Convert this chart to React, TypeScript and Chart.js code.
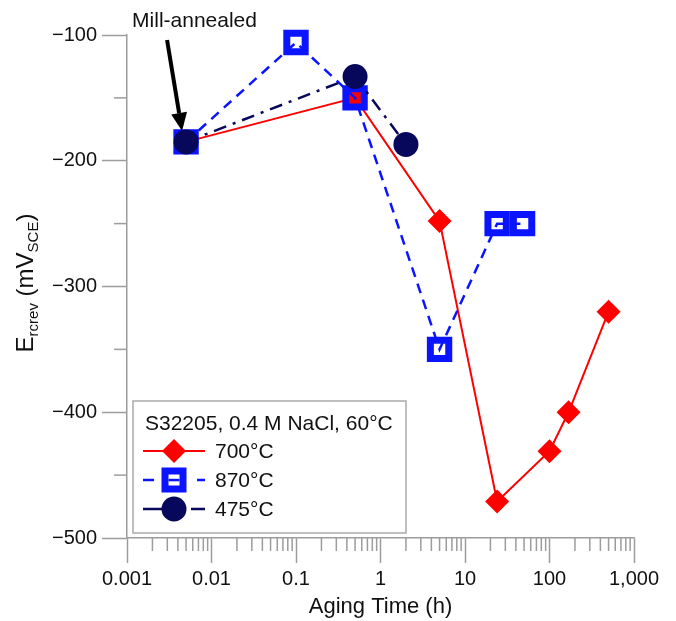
import React, { useEffect, useRef } from 'react';
import { Chart, registerables } from 'chart.js';

Chart.register(...registerables);

// ---- data ----
const hours700 = [0.005, 0.5, 5, 24, 100, 168, 500];
const erc700 = [-185, -150, -248, -471, -431, -400, -320];

const hours870 = [0.005, 0.1, 0.5, 5, 24, 48];
const erc870 = [-185, -106, -150, -350, -250, -250];

const hours475 = [0.005, 0.5, 2];
const erc475 = [-185, -133, -187];

const xTickValues = [0.001, 0.01, 0.1, 1, 10, 100, 1000];
const xTickLabels = ['0.001', '0.01', '0.1', '1', '10', '100', '1,000'];
const yTickValues = [-500, -400, -300, -200, -100];
const yMinorValues = [-450, -350, -250, -150];

const seriesNames = ['700°C', '870°C', '475°C'];
const legendTitle = 'S32205, 0.4 M NaCl, 60°C';
const annotationText = 'Mill-annealed';
const millAnnealedPoint = { x: 0.005, y: -185 };

const FONT = '"Liberation Sans", Arial, Helvetica, sans-serif';
const AXIS = '#9c9c9c';
const RED = '#ff0000';
const BLUE = '#0a14ff';
const NAVY = '#07075c';

const toXY = (xs: number[], ys: number[]) => xs.map((x, i) => ({ x, y: ys[i] }));

const drawDiamond = (ctx: CanvasRenderingContext2D, x: number, y: number, r: number) => {
  ctx.beginPath();
  ctx.moveTo(x, y - r);
  ctx.lineTo(x + r, y);
  ctx.lineTo(x, y + r);
  ctx.lineTo(x - r, y);
  ctx.closePath();
  ctx.fillStyle = RED;
  ctx.fill();
};

const drawOpenSquare = (ctx: CanvasRenderingContext2D, x: number, y: number) => {
  ctx.fillStyle = BLUE;
  ctx.fillRect(x - 12.5, y - 12.5, 25, 25);
  ctx.fillStyle = '#fff';
  ctx.fillRect(x - 5.5, y - 5.5, 11, 11);
  ctx.fillStyle = BLUE;
  ctx.fillRect(x - 5.5, y - 1.2, 11, 2.5);
};

const drawDot = (ctx: CanvasRenderingContext2D, x: number, y: number, r: number) => {
  ctx.beginPath();
  ctx.arc(x, y, r, 0, Math.PI * 2);
  ctx.fillStyle = NAVY;
  ctx.fill();
};

const decorPlugin = {
  id: 'decor',
  afterDraw(chart: any) {
    const ctx: CanvasRenderingContext2D = chart.ctx;
    const xs = chart.scales.x;
    const ys = chart.scales.y;
    const area = chart.chartArea;
    ctx.save();

    // minor ticks x
    ctx.strokeStyle = AXIS;
    ctx.lineWidth = 1.5;
    for (let d = -3; d < 3; d++) {
      for (let m = 2; m <= 9; m++) {
        const px = xs.getPixelForValue(m * Math.pow(10, d));
        ctx.beginPath();
        ctx.moveTo(px, area.bottom);
        ctx.lineTo(px, area.bottom + 13);
        ctx.stroke();
      }
    }
    // minor ticks y
    yMinorValues.forEach((v) => {
      const py = ys.getPixelForValue(v);
      ctx.beginPath();
      ctx.moveTo(area.left, py);
      ctx.lineTo(area.left - 13, py);
      ctx.stroke();
    });

    // y title with subscripts
    ctx.save();
    ctx.translate(33, 283);
    ctx.rotate(-Math.PI / 2);
    ctx.fillStyle = '#111';
    ctx.textBaseline = 'alphabetic';
    const big = `24px ${FONT}`;
    const small = `15px ${FONT}`;
    const parts: [string, string, number][] = [
      ['E', big, 0],
      ['rcrev', small, 5],
      [' (mV', big, 0],
      ['SCE', small, 5],
      [')', big, 0],
    ];
    let total = 0;
    parts.forEach(([t, f]) => {
      ctx.font = f;
      total += ctx.measureText(t).width;
    });
    let cx = -total / 2;
    parts.forEach(([t, f, dy]) => {
      ctx.font = f;
      ctx.textAlign = 'left';
      ctx.fillText(t, cx, dy);
      cx += ctx.measureText(t).width;
    });
    ctx.restore();

    // legend box
    const lx = area.left + 6;
    const lw = 273;
    const lh = 132;
    const ly = area.bottom - 5 - lh;
    ctx.fillStyle = '#fff';
    ctx.fillRect(lx, ly, lw, lh);
    ctx.strokeStyle = '#aaaaaa';
    ctx.lineWidth = 1.5;
    ctx.strokeRect(lx, ly, lw, lh);
    ctx.fillStyle = '#111';
    ctx.font = `21px ${FONT}`;
    ctx.textAlign = 'left';
    ctx.textBaseline = 'middle';
    ctx.fillText(legendTitle, lx + 12, ly + 23);
    const rows = [ly + 50, ly + 79, ly + 108];
    const sx0 = lx + 10;
    const sx1 = lx + 72;
    const mx = lx + 41;
    // red row
    ctx.strokeStyle = RED;
    ctx.lineWidth = 2;
    ctx.setLineDash([]);
    ctx.beginPath();
    ctx.moveTo(sx0, rows[0]);
    ctx.lineTo(sx1, rows[0]);
    ctx.stroke();
    drawDiamond(ctx, mx, rows[0], 12);
    // blue row
    ctx.strokeStyle = BLUE;
    ctx.lineWidth = 2.5;
    ctx.beginPath();
    ctx.moveTo(sx0, rows[1]);
    ctx.lineTo(sx0 + 11, rows[1]);
    ctx.moveTo(sx1 - 8, rows[1]);
    ctx.lineTo(sx1, rows[1]);
    ctx.stroke();
    drawOpenSquare(ctx, mx, rows[1]);
    // navy row
    ctx.strokeStyle = NAVY;
    ctx.beginPath();
    ctx.moveTo(sx0, rows[2]);
    ctx.lineTo(sx0 + 20, rows[2]);
    ctx.moveTo(sx1 - 14, rows[2]);
    ctx.lineTo(sx1, rows[2]);
    ctx.stroke();
    drawDot(ctx, mx, rows[2], 12.5);
    ctx.fillStyle = '#111';
    ctx.font = `21px ${FONT}`;
    rows.forEach((ry, i) => ctx.fillText(seriesNames[i], lx + 82, ry + 1));

    // annotation arrow
    const px = xs.getPixelForValue(millAnnealedPoint.x);
    const py = ys.getPixelForValue(millAnnealedPoint.y);
    const tipX = px - 4;
    const tipY = py - 11;
    const startX = px - 19;
    const startY = 40;
    const ang = Math.atan2(tipY - startY, tipX - startX);
    const headLen = 18;
    const headHalf = 8;
    const bx = tipX - headLen * Math.cos(ang);
    const by = tipY - headLen * Math.sin(ang);
    ctx.strokeStyle = '#000';
    ctx.lineWidth = 4;
    ctx.lineCap = 'butt';
    ctx.beginPath();
    ctx.moveTo(startX, startY);
    ctx.lineTo(bx, by);
    ctx.stroke();
    ctx.fillStyle = '#000';
    ctx.beginPath();
    ctx.moveTo(tipX, tipY);
    ctx.lineTo(bx + headHalf * Math.sin(ang), by - headHalf * Math.cos(ang));
    ctx.lineTo(bx - headHalf * Math.sin(ang), by + headHalf * Math.cos(ang));
    ctx.closePath();
    ctx.fill();
    ctx.fillStyle = '#111';
    ctx.font = `21px ${FONT}`;
    ctx.textAlign = 'left';
    ctx.textBaseline = 'alphabetic';
    ctx.fillText(annotationText, px - 54, 27);

    ctx.restore();
  },
};

export default function App() {
  const ref = useRef<HTMLCanvasElement>(null);
  useEffect(() => {
    const chart = new Chart(ref.current as HTMLCanvasElement, {
      type: 'line',
      data: {
        datasets: [
          {
            label: seriesNames[0],
            data: toXY(hours700, erc700),
            borderColor: RED,
            backgroundColor: RED,
            borderWidth: 2,
            pointStyle: 'rectRot',
            pointRadius: 12,
            pointBorderWidth: 0,
            pointBackgroundColor: RED,
            pointBorderColor: RED,
            order: 3,
            clip: false,
          },
          {
            label: seriesNames[1],
            data: toXY(hours870, erc870),
            borderColor: BLUE,
            backgroundColor: 'rgba(0,0,0,0)',
            borderWidth: 2.5,
            borderDash: [10, 7],
            pointStyle: 'rect',
            pointRadius: 13,
            pointBorderWidth: 7,
            pointBackgroundColor: 'rgba(0,0,0,0)',
            pointBorderColor: BLUE,
            order: 2,
            clip: false,
          },
          {
            label: seriesNames[2],
            data: toXY(hours475, erc475),
            borderColor: NAVY,
            backgroundColor: NAVY,
            borderWidth: 2.5,
            borderDash: [13, 7, 3, 7],
            pointStyle: 'circle',
            pointRadius: 12.5,
            pointBorderWidth: 0,
            pointBackgroundColor: NAVY,
            pointBorderColor: NAVY,
            order: 1,
            clip: false,
          },
        ] as any,
      },
      options: {
        animation: false,
        responsive: true,
        maintainAspectRatio: false,
        events: [],
        layout: { padding: { top: 35, right: 42, left: 0, bottom: 0 } },
        plugins: {
          legend: { display: false },
          tooltip: { enabled: false },
        },
        scales: {
          x: {
            type: 'logarithmic',
            min: 0.001,
            max: 1000,
            afterBuildTicks: (s: any) => {
              s.ticks = xTickValues.map((v) => ({ value: v, major: true }));
            },
            afterFit: (s: any) => {
              s.height = 83;
            },
            ticks: {
              autoSkip: false,
              maxRotation: 0,
              padding: 4,
              color: '#111',
              font: { family: FONT, size: 20 },
              callback: (_v: any, i: number) => xTickLabels[i],
            },
            grid: {
              drawOnChartArea: false,
              drawTicks: true,
              tickLength: 25,
              tickColor: AXIS,
              tickWidth: 1.5,
            },
            border: { display: true, color: AXIS, width: 1.5 },
            title: {
              display: true,
              text: 'Aging Time (h)',
              color: '#111',
              font: { family: FONT, size: 22 },
              padding: { top: 0, bottom: 1 },
            },
          },
          y: {
            type: 'linear',
            min: -500,
            max: -100,
            afterBuildTicks: (s: any) => {
              s.ticks = yTickValues.map((v) => ({ value: v }));
            },
            afterFit: (s: any) => {
              s.width = 127;
            },
            ticks: {
              padding: 5,
              color: '#111',
              font: { family: FONT, size: 20 },
              callback: (v: any) => (Number(v) < 0 ? '\u2212' + Math.abs(Number(v)) : String(v)),
            },
            grid: {
              drawOnChartArea: false,
              drawTicks: true,
              tickLength: 25,
              tickColor: AXIS,
              tickWidth: 1.5,
            },
            border: { display: true, color: AXIS, width: 1.5 },
          },
        },
      } as any,
      plugins: [decorPlugin],
    });
    return () => chart.destroy();
  }, []);
  return (
    <div style={{ position: 'fixed', left: 0, top: 0, width: 676, height: 621, background: '#fff' }}>
      <canvas ref={ref} />
    </div>
  );
}
